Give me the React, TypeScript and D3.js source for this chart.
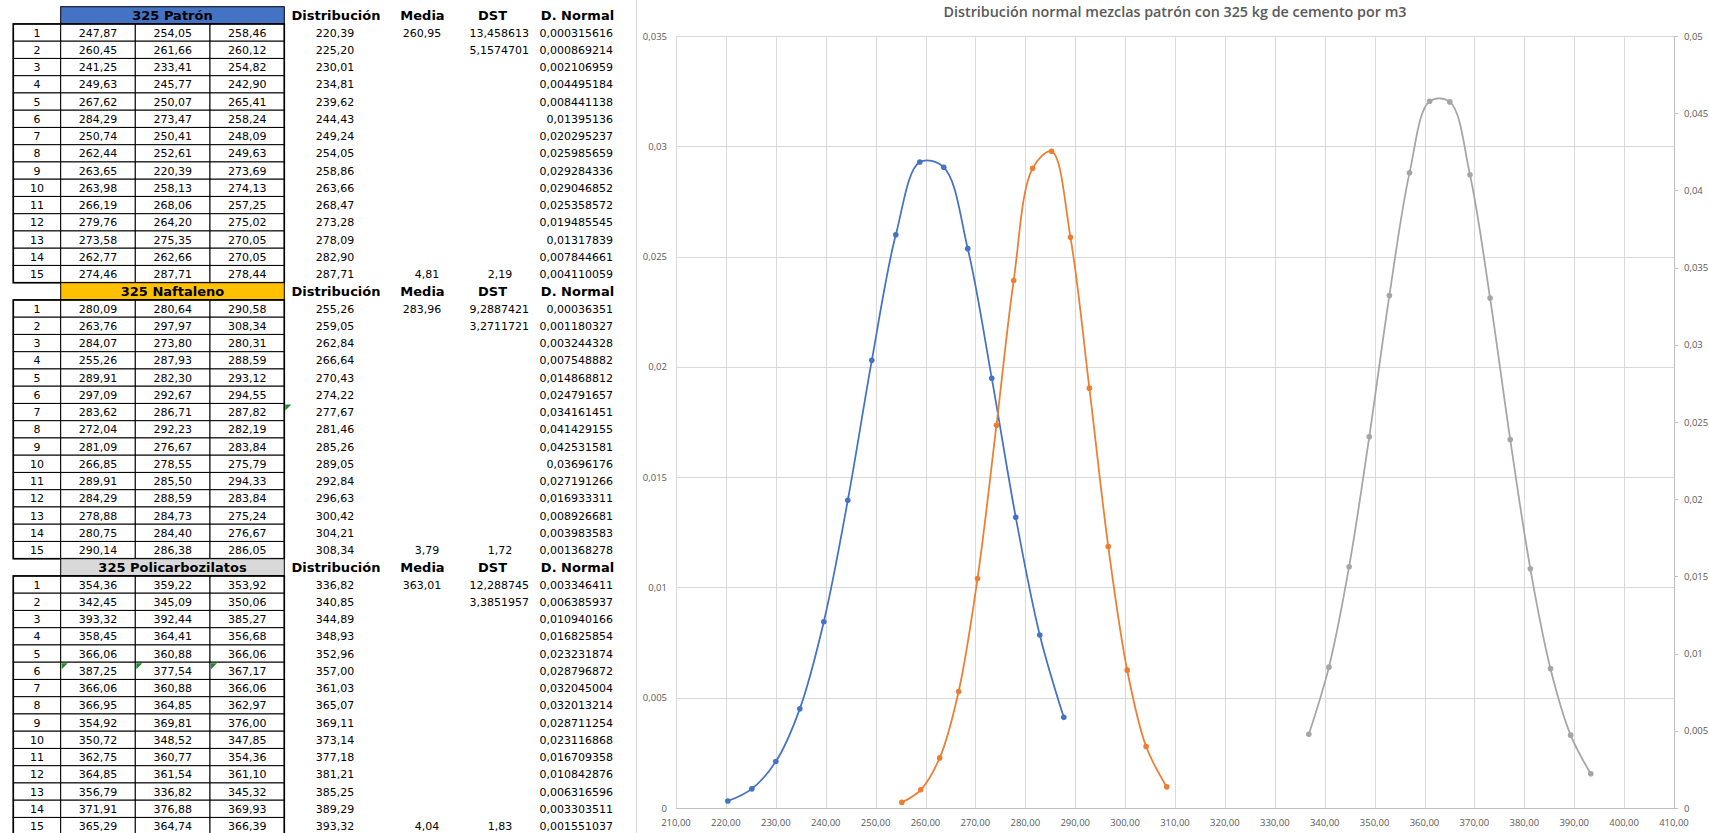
import React from "react";
import * as d3 from "d3";

// ---- Sample table values (three measurements per specimen) ----
const blockTitles = ["325 Patrón", "325 Naftaleno", "325 Policarbozilatos"];
const blockFills = ["#4472C4", "#FFC000", "#D9D9D9"];
const seriesColors = ["#4472C4", "#ED7D31", "#A5A5A5"];
const statHeaders = ["Distribución", "Media", "DST", "D. Normal"];

const patronSamples = [
  [247.87, 254.05, 258.46], [260.45, 261.66, 260.12], [241.25, 233.41, 254.82],
  [249.63, 245.77, 242.9], [267.62, 250.07, 265.41], [284.29, 273.47, 258.24],
  [250.74, 250.41, 248.09], [262.44, 252.61, 249.63], [263.65, 220.39, 273.69],
  [263.98, 258.13, 274.13], [266.19, 268.06, 257.25], [279.76, 264.2, 275.02],
  [273.58, 275.35, 270.05], [262.77, 262.66, 270.05], [274.46, 287.71, 278.44],
];
const naftalenoSamples = [
  [280.09, 280.64, 290.58], [263.76, 297.97, 308.34], [284.07, 273.8, 280.31],
  [255.26, 287.93, 288.59], [289.91, 282.3, 293.12], [297.09, 292.67, 294.55],
  [283.62, 286.71, 287.82], [272.04, 292.23, 282.19], [281.09, 276.67, 283.84],
  [266.85, 278.55, 275.79], [289.91, 285.5, 294.33], [284.29, 288.59, 283.84],
  [278.88, 284.73, 275.24], [280.75, 284.4, 276.67], [290.14, 286.38, 286.05],
];
const policarbSamples = [
  [354.36, 359.22, 353.92], [342.45, 345.09, 350.06], [393.32, 392.44, 385.27],
  [358.45, 364.41, 356.68], [366.06, 360.88, 366.06], [387.25, 377.54, 367.17],
  [366.06, 360.88, 366.06], [366.95, 364.85, 362.97], [354.92, 369.81, 376.0],
  [350.72, 348.52, 347.85], [362.75, 360.77, 354.36], [364.85, 361.54, 361.1],
  [356.79, 336.82, 345.32], [371.91, 376.88, 369.93], [365.29, 364.74, 366.39],
];

// ---- Distribution points (x) and normal density (y) ----
const patronDist = [220.39, 225.2, 230.01, 234.81, 239.62, 244.43, 249.24, 254.05, 258.86, 263.66, 268.47, 273.28, 278.09, 282.9, 287.71];
const patronDensity = [0.000315616, 0.000869214, 0.002106959, 0.004495184, 0.008441138, 0.01395136, 0.020295237, 0.025985659, 0.029284336, 0.029046852, 0.025358572, 0.019485545, 0.01317839, 0.007844661, 0.004110059];

const naftalenoDist = [255.26, 259.05, 262.84, 266.64, 270.43, 274.22, 277.67, 281.46, 285.26, 289.05, 292.84, 296.63, 300.42, 304.21, 308.34];
const naftalenoDensity = [0.00036351, 0.001180327, 0.003244328, 0.007548882, 0.014868812, 0.024791657, 0.034161451, 0.041429155, 0.042531581, 0.03696176, 0.027191266, 0.016933311, 0.008926681, 0.003983583, 0.001368278];

const policarbDist = [336.82, 340.85, 344.89, 348.93, 352.96, 357.0, 361.03, 365.07, 369.11, 373.14, 377.18, 381.21, 385.25, 389.29, 393.32];
const policarbDensity = [0.003346411, 0.006385937, 0.010940166, 0.016825854, 0.023231874, 0.028796872, 0.032045004, 0.032013214, 0.028711254, 0.023116868, 0.016709358, 0.010842876, 0.006316596, 0.003303511, 0.001551037];

const mediaValues = [260.95, 283.96, 363.01];
const dstValues = [13.458613, 9.2887421, 12.288745];
const dstSecondValues = [5.1574701, 3.2711721, 3.3851957];
const lastMediaValues = [4.81, 3.79, 4.04];
const lastDstValues = [2.19, 1.72, 1.83];

const chartTitle = "Distribución normal mezclas patrón con 325 kg de cemento por m3";

// ---- Layout ----
const W = 1709;
const H = 833;
const ROW_TOP = 6.7;
const ROW_H = 17.25;
const COLS = [13.3, 60.7, 135.3, 210, 284.3];
const TABLE_FONT = "'DejaVu Sans', Verdana, sans-serif";
const CHART_FONT = "'Open Sans', 'Noto Sans', sans-serif";
const AXIS_GREY = "#595959";

const locale = d3.formatLocale({ decimal: ",", thousands: ".", grouping: [3], currency: ["", ""] });
const fixed2 = locale.format(".2f");
const general = locale.format("~g");
const plain = (v: number) => String(v).replace(".", ",");

export default function App() {
  const blocks = [
    { samples: patronSamples, dist: patronDist, dens: patronDensity },
    { samples: naftalenoSamples, dist: naftalenoDist, dens: naftalenoDensity },
    { samples: policarbSamples, dist: policarbDist, dens: policarbDensity },
  ];

  // Chart scales: blue and grey on the primary axis, orange on the secondary.
  const x = d3.scaleLinear().domain([210, 410]).range([676, 1674]);
  const yLeft = d3.scaleLinear().domain([0, 0.035]).range([808, 36]);
  const yRight = d3.scaleLinear().domain([0, 0.05]).range([808, 36]);
  const seriesAxes = [yLeft, yRight, yLeft];

  const xTicks = x.ticks(20);
  const yLeftTicks = yLeft.ticks(7);
  const yRightTicks = yRight.ticks(10);

  const rowY = (b: number, r: number) => ROW_TOP + (b * 16 + r) * ROW_H;

  // Green error-indicator corners, as [block, row, column index]
  const flags: [number, number, number][] = [
    [1, 7, 4],
    [2, 6, 1],
    [2, 6, 2],
    [2, 6, 3],
  ];

  return (
    <svg
      width={W}
      height={H}
      style={{ position: "fixed", left: 0, top: 0, background: "#fff" }}
    >
      <rect x={0} y={0} width={W} height={H} fill="#fff" />

      {/* ---------- Spreadsheet table ---------- */}
      {blocks.map((blk, b) => {
        const top = rowY(b, 0);
        return (
          <g key={"blk" + b} fontFamily={TABLE_FONT}>
            <rect x={COLS[1]} y={top} width={COLS[4] - COLS[1]} height={ROW_H} fill={blockFills[b]} stroke="#000" strokeWidth={1} />
            <text x={(COLS[1] + COLS[4]) / 2} y={top + ROW_H / 2 + 0.5} fontSize={13} fontWeight="bold" textAnchor="middle" dominantBaseline="central">
              {blockTitles[b]}
            </text>
            {statHeaders.map((h, i) => (
              <text key={h} x={[336, 422.5, 492.5, 577.5][i]} y={top + ROW_H / 2 + 0.5} fontSize={13} fontWeight="bold" textAnchor="middle" dominantBaseline="central">
                {h}
              </text>
            ))}
            {blk.samples.map((row, r) => {
              const y0 = rowY(b, r + 1);
              const cy = y0 + ROW_H / 2 + 0.5;
              return (
                <g key={"r" + r}>
                  {[0, 1, 2, 3].map((c) => (
                    <rect key={c} x={COLS[c]} y={y0} width={COLS[c + 1] - COLS[c]} height={ROW_H} fill="#fff" stroke="#000" strokeWidth={1} />
                  ))}
                  <text x={(COLS[0] + COLS[1]) / 2} y={cy} fontSize={11} textAnchor="middle" dominantBaseline="central">{r + 1}</text>
                  {row.map((v, c) => (
                    <text key={c} x={(COLS[c + 1] + COLS[c + 2]) / 2} y={cy} fontSize={11} textAnchor="middle" dominantBaseline="central">
                      {fixed2(v)}
                    </text>
                  ))}
                  <text x={335} y={cy} fontSize={11} textAnchor="middle" dominantBaseline="central">{fixed2(blk.dist[r])}</text>
                  <text x={613} y={cy} fontSize={11} textAnchor="end" dominantBaseline="central">{plain(blk.dens[r])}</text>
                  {r === 0 && (
                    <>
                      <text x={422} y={cy} fontSize={11} textAnchor="middle" dominantBaseline="central">{plain(mediaValues[b])}</text>
                      <text x={529} y={cy} fontSize={11} textAnchor="end" dominantBaseline="central">{plain(dstValues[b])}</text>
                    </>
                  )}
                  {r === 1 && (
                    <text x={529} y={cy} fontSize={11} textAnchor="end" dominantBaseline="central">{plain(dstSecondValues[b])}</text>
                  )}
                  {r === 14 && (
                    <>
                      <text x={427} y={cy} fontSize={11} textAnchor="middle" dominantBaseline="central">{plain(lastMediaValues[b])}</text>
                      <text x={500} y={cy} fontSize={11} textAnchor="middle" dominantBaseline="central">{plain(lastDstValues[b])}</text>
                    </>
                  )}
                </g>
              );
            })}
            <rect x={COLS[0]} y={rowY(b, 1)} width={COLS[4] - COLS[0]} height={15 * ROW_H} fill="none" stroke="#000" strokeWidth={1.6} />
          </g>
        );
      })}

      {flags.map(([b, r, c], i) => {
        const fx = COLS[c] + 1;
        const fy = rowY(b, r) + 1;
        return <path key={"f" + i} d={`M${fx},${fy}h6l-6,6z`} fill="#1E8C2E" />;
      })}

      {/* ---------- Chart ---------- */}
      <line x1={636.5} x2={636.5} y1={0} y2={H} stroke="#D9D9D9" strokeWidth={1} />

      <text x={1175} y={16.5} fontFamily={CHART_FONT} fontSize={15} fontWeight={600} fill={AXIS_GREY} textAnchor="middle" textLength={463} lengthAdjust="spacingAndGlyphs">
        {chartTitle}
      </text>

      {/* gridlines */}
      <g stroke="#D9D9D9" strokeWidth={1}>
        {xTicks.map((t) => (
          <line key={"gx" + t} x1={Math.round(x(t)) + 0.5} x2={Math.round(x(t)) + 0.5} y1={yLeft(0.035)} y2={yLeft(0)} />
        ))}
        {yLeftTicks.map((t) => (
          <line key={"gy" + t} x1={x(210)} x2={x(410)} y1={Math.round(yLeft(t)) + 0.5} y2={Math.round(yLeft(t)) + 0.5} />
        ))}
      </g>

      {/* axis lines */}
      <line x1={x(210)} x2={x(410)} y1={Math.round(yLeft(0)) + 0.5} y2={Math.round(yLeft(0)) + 0.5} stroke="#BFBFBF" />
      <line x1={Math.round(x(410)) + 0.5} x2={Math.round(x(410)) + 0.5} y1={yRight(0.05)} y2={yRight(0)} stroke="#BFBFBF" />
      {yRightTicks.map((t) => (
        <line key={"tr" + t} x1={x(410)} x2={x(410) + 4} y1={Math.round(yRight(t)) + 0.5} y2={Math.round(yRight(t)) + 0.5} stroke="#BFBFBF" />
      ))}

      {/* tick labels */}
      <g fontFamily={CHART_FONT} fontSize={9.5} fill={AXIS_GREY}>
        {yLeftTicks.map((t) => (
          <text key={"ly" + t} x={667} y={yLeft(t) + 3.5} textAnchor="end">{general(t)}</text>
        ))}
        {yRightTicks.map((t) => (
          <text key={"ry" + t} x={1684} y={yRight(t) + 3.5} textAnchor="start">{general(t)}</text>
        ))}
        {xTicks.map((t) => (
          <text key={"lx" + t} x={x(t)} y={825.5} textAnchor="middle">{fixed2(t)}</text>
        ))}
      </g>

      {/* series */}
      {blocks.map((blk, s) => {
        const yS = seriesAxes[s];
        const pts: [number, number][] = blk.dist.map((d, i) => [x(d), yS(blk.dens[i])]);
        const path = d3.line().curve(d3.curveCatmullRom.alpha(0.5))(pts) || "";
        return (
          <g key={"s" + s}>
            <path d={path} fill="none" stroke={seriesColors[s]} strokeWidth={1.75} />
            {pts.map((p, i) => (
              <circle key={i} cx={p[0]} cy={p[1]} r={2.8} fill={seriesColors[s]} />
            ))}
          </g>
        );
      })}
    </svg>
  );
}
